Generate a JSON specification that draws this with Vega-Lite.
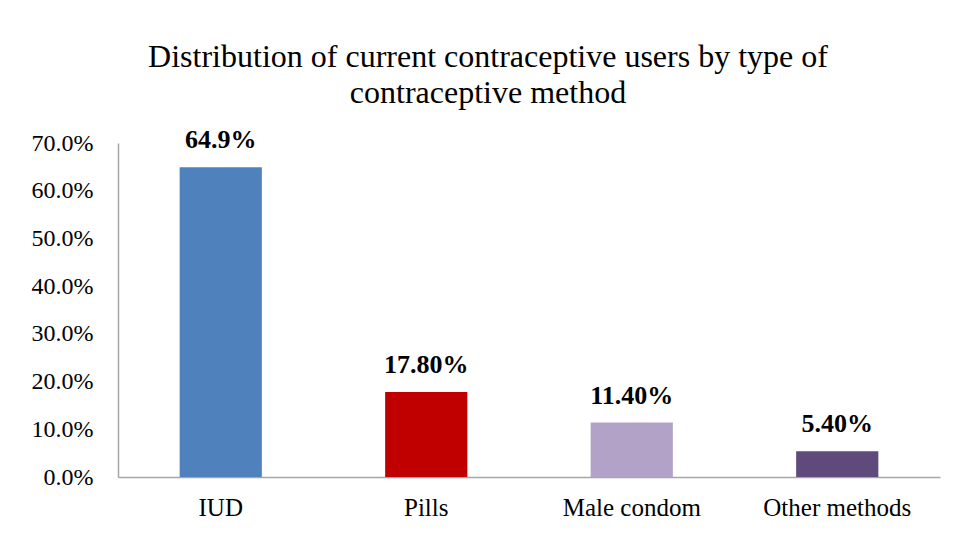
{
  "$schema": "https://vega.github.io/schema/vega-lite/v6.json",
  "width": 822,
  "height": 334,
  "autosize": {"type": "none"},
  "padding": {"left": 118, "top": 143, "right": 16, "bottom": 56},
  "background": "white",
  "title": {
    "text": ["Distribution of current contraceptive users by type of", "contraceptive method"],
    "font": "Liberation Serif",
    "fontSize": 32,
    "fontWeight": "normal",
    "color": "black",
    "lineHeight": 36,
    "anchor": "middle",
    "dx": -41,
    "offset": 17
  },
  "config": {
    "view": {"stroke": null},
    "axis": {"labelFont": "Liberation Serif", "labelColor": "black", "domainColor": "#a6a6a6", "domainWidth": 1.5, "ticks": false, "grid": false, "title": null}
  },
  "data": {
    "values": [
      {"method": "IUD", "pct": 64.9, "label": "64.9%"},
      {"method": "Pills", "pct": 17.8, "label": "17.80%"},
      {"method": "Male condom", "pct": 11.4, "label": "11.40%"},
      {"method": "Other methods", "pct": 5.4, "label": "5.40%"}
    ]
  },
  "encoding": {
    "x": {"field": "method", "type": "nominal", "sort": null,
      "scale": {"paddingInner": 0.6, "paddingOuter": 0.3},
      "axis": {"labelAngle": 0, "labelPadding": 18, "labelFontSize": 25}},
    "y": {"field": "pct", "type": "quantitative",
      "scale": {"domain": [0, 70]},
      "axis": {"values": [0, 10, 20, 30, 40, 50, 60, 70], "labelExpr": "format(datum.value, '.1f') + '%'", "labelPadding": 25, "labelFontSize": 24}}
  },
  "layer": [
    {
      "mark": {"type": "bar"},
      "encoding": {
        "color": {"field": "method", "type": "nominal", "sort": null, "legend": null,
          "scale": {"domain": ["IUD", "Pills", "Male condom", "Other methods"], "range": ["#4f81bd", "#c00000", "#b3a2c7", "#604a7b"]}}
      }
    },
    {
      "mark": {"type": "text", "font": "Liberation Serif", "fontSize": 26, "fontWeight": "bold", "color": "black", "baseline": "alphabetic", "dy": -19},
      "encoding": {"text": {"field": "label"}}
    }
  ]
}
